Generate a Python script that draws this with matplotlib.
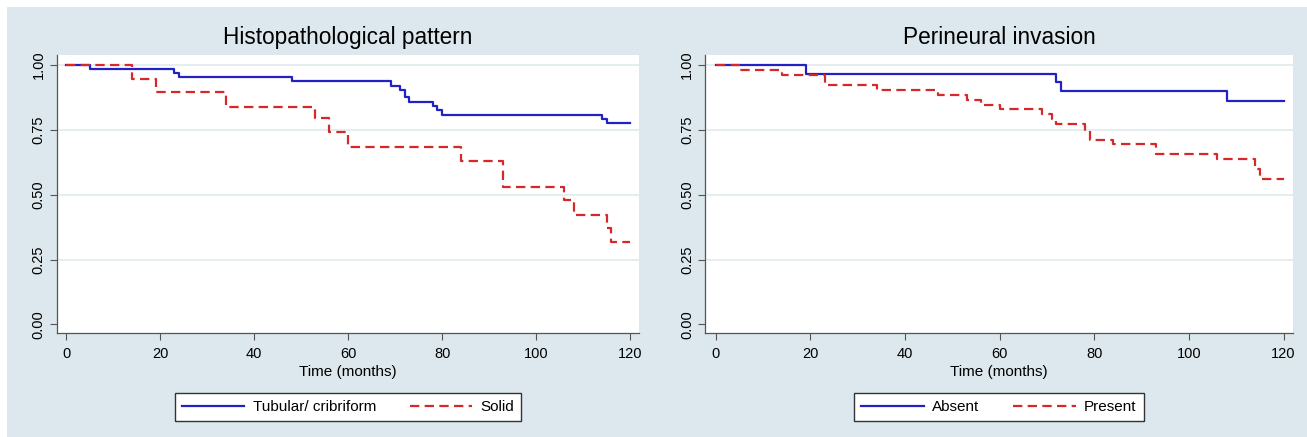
import matplotlib
matplotlib.use("Agg")
import matplotlib.pyplot as plt
from matplotlib.patches import Rectangle

plt.rcParams['font.family'] = ['Liberation Sans', 'DejaVu Sans']

# Kaplan-Meier estimates (months, survival)
histo_tub_t = [0, 5, 23, 24, 48, 69, 71, 72, 73, 78, 79, 80, 114, 115, 120]
histo_tub_s = [1.0, 0.983, 0.969, 0.952, 0.938, 0.921, 0.904, 0.875, 0.857,
               0.843, 0.825, 0.807, 0.791, 0.775, 0.775]
histo_sol_t = [0, 14, 19, 34, 53, 56, 60, 84, 93, 106, 108, 115, 116, 120]
histo_sol_s = [1.0, 0.947, 0.895, 0.839, 0.794, 0.741, 0.685, 0.632, 0.528,
               0.479, 0.422, 0.371, 0.316, 0.316]

peri_abs_t = [0, 19, 72, 73, 108, 120]
peri_abs_s = [1.0, 0.965, 0.933, 0.899, 0.863, 0.863]
peri_pre_t = [0, 5, 14, 23, 34, 47, 53, 56, 60, 69, 71, 72, 78, 79, 84, 93,
              106, 114, 115, 120]
peri_pre_s = [1.0, 0.982, 0.963, 0.922, 0.904, 0.884, 0.865, 0.847, 0.829,
              0.811, 0.791, 0.771, 0.745, 0.712, 0.694, 0.657, 0.636, 0.600,
              0.559, 0.559]

x_ticks = [0, 20, 40, 60, 80, 100, 120]
y_ticks = [0.0, 0.25, 0.5, 0.75, 1.0]
y_labels = ["0.00", "0.25", "0.50", "0.75", "1.00"]

panels = [
    ("Histopathological pattern", [0.0436, 0.238, 0.4453, 0.636], (-2.0, 121.9),
     (histo_tub_t, histo_tub_s, "Tubular/ cribriform"),
     (histo_sol_t, histo_sol_s, "Solid")),
    ("Perineural invasion", [0.5394, 0.238, 0.4499, 0.636], (-2.3, 122.0),
     (peri_abs_t, peri_abs_s, "Absent"),
     (peri_pre_t, peri_pre_s, "Present")),
]

bg = "#DCE8ED"
blue = "#2222C4"
red = "#D62828"

W, H = 1307, 437
fig = plt.figure(figsize=(W / 100, H / 100), dpi=100)
fig.patch.set_facecolor("white")
fig.patches.append(Rectangle((7 / W, 0), 1 - 7 / W, 1 - 7 / H,
                             transform=fig.transFigure, facecolor=bg,
                             edgecolor="none", zorder=-10))

for title, pos, xlim, s1, s2 in panels:
    ax = fig.add_axes(pos)
    ax.set_facecolor("white")
    for yv in [0.25, 0.5, 0.75, 1.0]:
        ax.axhline(yv, color="#E2ECEF", lw=1.3, zorder=1)
    l1, = ax.step(s1[0], s1[1], where="post", color=blue, lw=1.6,
                  label=s1[2], zorder=3)
    l2, = ax.step(s2[0], s2[1], where="post", color=red, lw=1.6,
                  linestyle=(0, (4.2, 2.4)), label=s2[2], zorder=4)
    ax.set_xlim(*xlim)
    ax.set_ylim(-0.033, 1.0385)
    ax.set_xticks(x_ticks)
    ax.set_yticks(y_ticks)
    ax.set_yticklabels(y_labels, rotation=90, va="center")
    ax.tick_params(axis="both", direction="out", length=5, width=0.8,
                   color="#555555", labelsize=10.5, labelcolor="black")
    ax.tick_params(axis="x", pad=5)
    ax.tick_params(axis="y", pad=3)
    for side in ["top", "right"]:
        ax.spines[side].set_visible(False)
    for side in ["left", "bottom"]:
        ax.spines[side].set_color("#555555")
        ax.spines[side].set_linewidth(0.9)
    ax.set_title(title, fontsize=16.3, pad=8)
    ax.set_xlabel("Time (months)", fontsize=11, labelpad=3)
    ax.legend(handles=[l1, l2], loc="center", ncol=2,
              bbox_to_anchor=(0.5, -0.266), frameon=True, fancybox=False,
              edgecolor="#333333", facecolor="white", framealpha=1,
              fontsize=11, handlelength=4.1, columnspacing=2.2,
              borderpad=0.45, handletextpad=0.55)

fig.savefig("out.png", dpi=100, facecolor=fig.get_facecolor())
